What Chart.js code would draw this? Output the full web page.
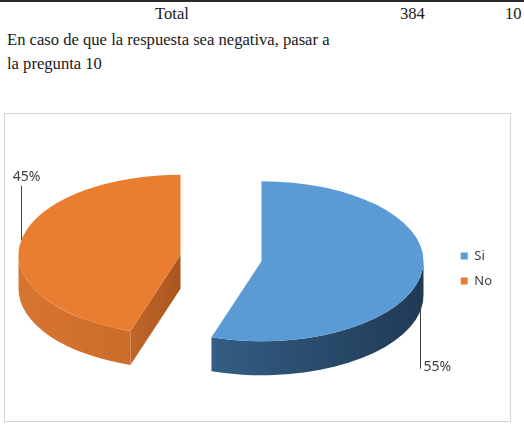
<!DOCTYPE html>
<html><head><meta charset="utf-8">
<script src="https://cdn.jsdelivr.net/npm/chart.js@4/dist/chart.umd.min.js"></script>
<style>
html,body{margin:0;padding:0;background:#fff;width:524px;height:426px;overflow:hidden;position:relative;}
.rule{position:absolute;left:0;top:0;width:524px;height:2px;background:#2a2a2a;}
.doc{position:absolute;font-family:"Liberation Serif","Times New Roman",serif;font-size:16.6px;color:#1a1a1a;white-space:nowrap;line-height:18px;}
#box{position:absolute;left:4px;top:113px;width:505px;height:307px;border:1px solid #d4d4d4;background:#fff;}
#box canvas{position:absolute;left:0;top:0;}
</style>
</head><body>
<div class="rule"></div>
<div class="doc" style="left:155px;top:5px;">Total</div>
<div class="doc" style="left:400px;top:5px;">384</div>
<div class="doc" style="left:505px;top:5px;">10</div>
<div class="doc" style="left:7px;top:31px;">En caso de que la respuesta sea negativa, pasar a</div>
<div class="doc" style="left:7px;top:55px;">la pregunta 10</div>
<div id="box"><canvas id="c" width="505" height="307"></canvas></div>
<script>
// ---- data ----
const categories = ['Si', 'No'];
const percentValues = [55, 45];
const sliceColors = ['#5b9bd5', '#e97e31'];

// ---- style (3D look) ----
const STYLE = {
  rx: 162, tilt: 0.494, depth: 34, explode: 41,
  wall: [['#3f709d', '#1f3a55'], ['#d67530', '#b65e22']],
  cut: [['#2f5677', '#22405e'], ['#c0662a', '#a9561e']],
  labelFont: '14px "Noto Sans", "Open Sans", sans-serif',
  labelColor: '#404040'
};

const pie3d = {
  id: 'pie3d',
  beforeDatasetsDraw(chart) {
    const ctx = chart.ctx;
    const ca = chart.chartArea;
    const meta = chart.getDatasetMeta(0);
    const rx = STYLE.rx, ry = rx * STYLE.tilt, dz = STYLE.depth, ex = STYLE.explode;
    const cx0 = ca.left + ex + rx;
    const cy0 = ca.top + ry;
    const slices = meta.data.map((arc, i) => {
      const p = arc.getProps(['startAngle', 'endAngle'], true);
      const mid = (p.startAngle + p.endAngle) / 2;
      return {i, s: p.startAngle, e: p.endAngle, mid,
        cx: cx0 + Math.cos(mid) * ex, cy: cy0 + Math.sin(mid) * ex * STYLE.tilt};
    });
    const P = (sl, t, z) => [sl.cx + rx * Math.cos(t), sl.cy + ry * Math.sin(t) + z];

    slices.forEach(sl => {
      // cut faces (visible when facing viewer)
      [[sl.s, -1], [sl.e, 1]].forEach(([t, dir]) => {
        const ny = dir < 0 ? -Math.cos(t) : Math.cos(t);
        if (ny > 0.02) {
          const e = P(sl, t, 0);
          const g = ctx.createLinearGradient(sl.cx, 0, e[0], 0);
          g.addColorStop(0, STYLE.cut[sl.i][1]);
          g.addColorStop(1, STYLE.cut[sl.i][0]);
          ctx.beginPath();
          ctx.moveTo(sl.cx, sl.cy);
          ctx.lineTo(e[0], e[1]);
          ctx.lineTo(e[0], e[1] + dz);
          ctx.lineTo(sl.cx, sl.cy + dz);
          ctx.closePath();
          ctx.fillStyle = g; ctx.fill();
        }
      });
      // outer wall, front part only
      const a = Math.max(sl.s, 0), b = Math.min(sl.e, Math.PI);
      if (b > a) {
        const g = ctx.createLinearGradient(sl.cx - rx, 0, sl.cx + rx, 0);
        g.addColorStop(0, STYLE.wall[sl.i][0]);
        g.addColorStop(1, STYLE.wall[sl.i][1]);
        ctx.beginPath();
        ctx.ellipse(sl.cx, sl.cy, rx, ry, 0, a, b, false);
        const pb = P(sl, b, dz);
        ctx.lineTo(pb[0], pb[1]);
        ctx.ellipse(sl.cx, sl.cy + dz, rx, ry, 0, b, a, true);
        ctx.closePath();
        ctx.fillStyle = g; ctx.fill();
      }
      // top face
      ctx.beginPath();
      ctx.moveTo(sl.cx, sl.cy);
      ctx.ellipse(sl.cx, sl.cy, rx, ry, 0, sl.s, sl.e, false);
      ctx.closePath();
      ctx.fillStyle = sliceColors[sl.i]; ctx.fill();
    });

    // data labels with leader lines
    ctx.save();
    ctx.font = STYLE.labelFont;
    ctx.fillStyle = STYLE.labelColor;
    ctx.strokeStyle = '#404040';
    ctx.lineWidth = 1;
    ctx.textBaseline = 'middle';
    slices.forEach(sl => {
      const txt = percentValues[sl.i] + '%';
      if (sl.mid > Math.PI / 2) {
        // left slice: anchor on top rim, label above
        const t = Math.PI + 0.19;
        const pnt = P(sl, t, 0);
        const x = Math.round(pnt[0]) + 0.5;
        ctx.beginPath(); ctx.moveTo(x, pnt[1]); ctx.lineTo(x, pnt[1] - 54); ctx.stroke();
        ctx.textAlign = 'center';
        ctx.fillText(txt, x + 5, pnt[1] - 63);
      } else {
        const t = 0.22;
        const pnt = P(sl, t, dz);
        const x = Math.round(pnt[0]) + 0.5;
        ctx.beginPath(); ctx.moveTo(x, pnt[1] - 8); ctx.lineTo(x, pnt[1] + 56); ctx.stroke();
        ctx.textAlign = 'left';
        ctx.fillText(txt, x + 3, pnt[1] + 54);
      }
    });
    ctx.restore();
    return false;
  }
};

new Chart(document.getElementById('c'), {
  type: 'pie',
  data: {
    labels: categories,
    datasets: [{ data: percentValues, backgroundColor: sliceColors, borderWidth: 0 }]
  },
  options: {
    responsive: false,
    animation: false,
    layout: { padding: { left: 13, top: 64, bottom: 62, right: 8 } },
    plugins: {
      legend: {
        position: 'right',
        labels: {
          boxWidth: 7, boxHeight: 7, padding: 12, color: '#404040',
          font: { family: '"Noto Sans", "Open Sans", sans-serif', size: 13 }
        }
      },
      tooltip: { enabled: false }
    }
  },
  plugins: [pie3d]
});
</script>
</body></html>
